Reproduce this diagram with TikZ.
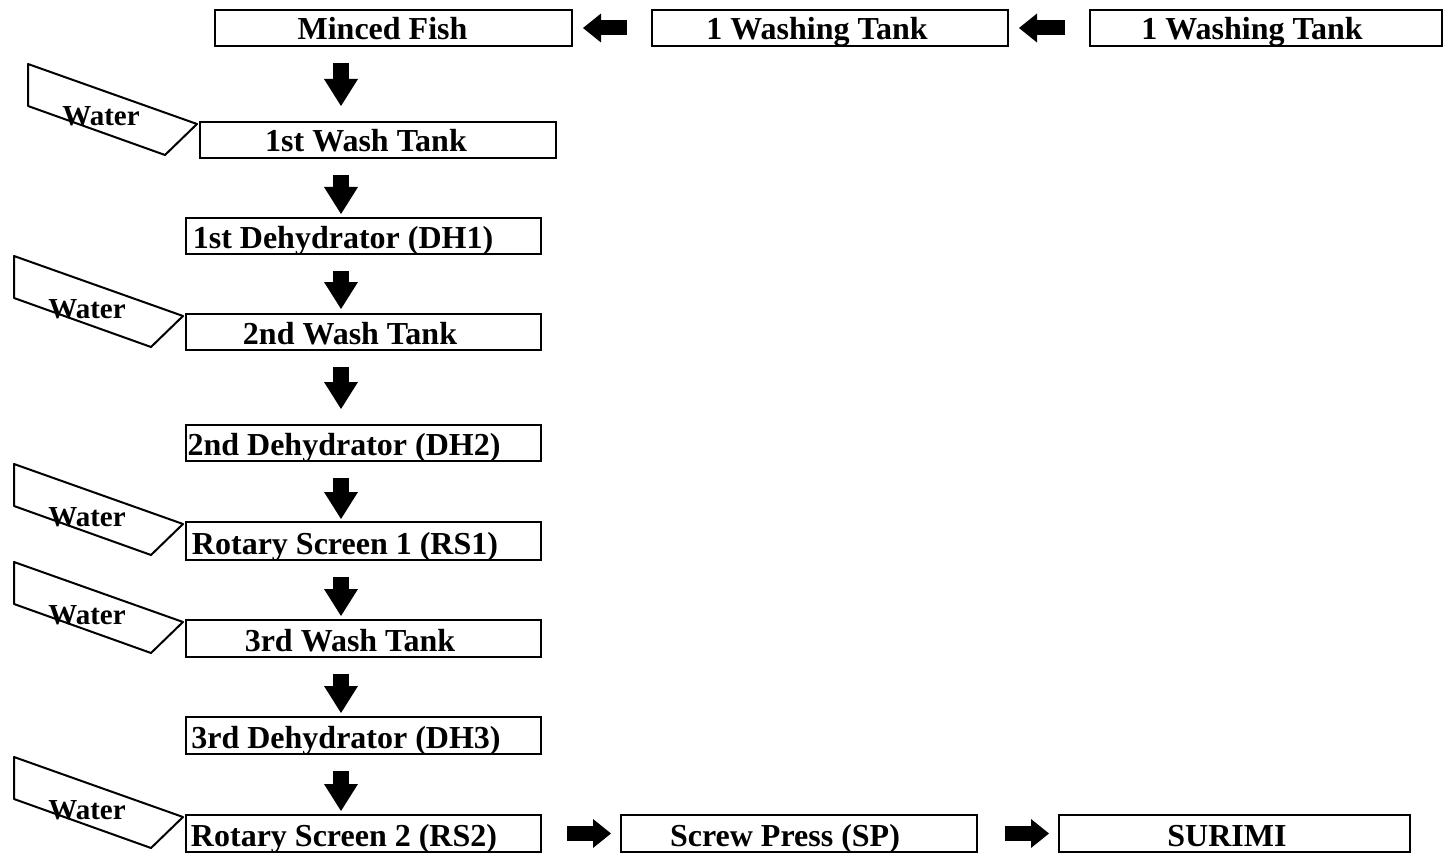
\documentclass[tikz,border=0pt]{standalone}
\usepackage{fontspec}
\setmainfont{Liberation Serif}
\usetikzlibrary{arrows.meta,calc}
\tikzset{
  box/.style={draw, line width=2pt, inner sep=0pt, minimum height=36pt},
  lbl/.style={font=\fontsize{32}{36}\selectfont\bfseries, inner sep=0pt, anchor=base},
  wlbl/.style={font=\fontsize{29}{32}\selectfont\bfseries, inner sep=0pt, anchor=base},
  waterbox/.style={draw, line width=2pt, line join=round},
  dnarr/.style={line width=16pt, -{Triangle[length=27pt,width=34pt,line width=0pt]}, shorten <=16pt},
  hzarr/.style={line width=15pt, -{Triangle[length=18pt,width=29pt,line width=0pt]}},
}
\begin{document}
\begin{tikzpicture}[x=1pt,y=-1pt]
\useasboundingbox (0,0) rectangle (1448,861);
\coordinate (ax) at (341,0);
% top row
\node[box, minimum width=357pt] (mf) at (393.5,28) {};
\node[box, minimum width=356pt] (wt1) at (830,28) {};
\node[box, minimum width=352pt] (wt2) at (1266,28) {};
% column
\node[box, minimum width=356pt] (wash1) at (378,140) {};
\node[box, minimum width=355pt] (dh1) at (363.5,236) {};
\node[box, minimum width=355pt] (wash2) at (363.5,332) {};
\node[box, minimum width=355pt] (dh2) at (363.5,443) {};
\node[box, minimum width=355pt, minimum height=38pt] (rs1) at (363.5,541) {};
\node[box, minimum width=355pt, minimum height=37pt] (wash3) at (363.5,638.5) {};
\node[box, minimum width=355pt, minimum height=37pt] (dh3) at (363.5,735.5) {};
\node[box, minimum width=355pt, minimum height=37pt] (rs2) at (363.5,833.5) {};
% bottom row
\node[box, minimum width=356pt, minimum height=37pt] (sp) at (799,833.5) {};
\node[box, minimum width=351pt, minimum height=37pt] (surimi) at (1234.5,833.5) {};
% labels
\node[lbl] (mft) at ([xshift=-11pt,yshift=7pt]mf.south) {Minced Fish};
\node[lbl] (wt1t) at ([xshift=-13pt,yshift=7pt]wt1.south) {1 Washing Tank};
\node[lbl] (wt2t) at ([xshift=-14pt,yshift=7pt]wt2.south) {1 Washing Tank};
\node[lbl] (wash1t) at ([xshift=-12pt,yshift=7pt]wash1.south) {1st Wash Tank};
\node[lbl] (dh1t) at ([xshift=-20.5pt,yshift=7pt]dh1.south) {1st Dehydrator (DH1)};
\node[lbl] (wash2t) at ([xshift=-13.5pt,yshift=7pt]wash2.south) {2nd Wash Tank};
\node[lbl] (dh2t) at ([xshift=-19.5pt,yshift=7pt]dh2.south) {2nd Dehydrator (DH2)};
\node[lbl] (rs1t) at ([xshift=-18.5pt,yshift=7pt]rs1.south) {Rotary Screen 1 (RS1)};
\node[lbl] (wash3t) at ([xshift=-13.5pt,yshift=7pt]wash3.south) {3rd Wash Tank};
\node[lbl] (dh3t) at ([xshift=-17.5pt,yshift=7pt]dh3.south) {3rd Dehydrator (DH3)};
\node[lbl] (rs2t) at ([xshift=-19.5pt,yshift=7pt]rs2.south) {Rotary Screen 2 (RS2)};
\node[lbl] (spt) at ([xshift=-14pt,yshift=7pt]sp.south) {Screw Press (SP)};
\node[lbl] (surimit) at ([xshift=-7.5pt,yshift=7pt]surimi.south) {SURIMI};
% water inlets
\foreach \b/\n in {wash1/w1, wash2/w2, rs1/w3, wash3/w4, rs2/w5}{
  \coordinate (\n) at ([xshift=-2pt,yshift=-3pt]\b.north west);
  \draw[waterbox] (\n) -- ++(-169,-60) -- ++(0,42) -- ++(137,49) -- cycle;
  \node[wlbl] (\n t) at ($(\n)+(-96,2)$) {Water};
}
% horizontal arrows
\draw[hzarr, shorten <=24pt, shorten >=10pt] (wt1.west) -- (mf.east);
\draw[hzarr, shorten <=24pt, shorten >=10pt] (wt2.west) -- (wt1.east);
\draw[hzarr, shorten <=25pt, shorten >=9pt] (rs2.east) -- (sp.west);
\draw[hzarr, shorten <=27pt, shorten >=9pt] (sp.east) -- (surimi.west);
% vertical arrows
\draw[dnarr, shorten >=15pt] (mf.south -| ax) -- (wash1.north -| ax);
\draw[dnarr, shorten >=3pt] (wash1.south -| ax) -- (dh1.north -| ax);
\draw[dnarr, shorten >=4pt] (dh1.south -| ax) -- (wash2.north -| ax);
\draw[dnarr, shorten >=15pt] (wash2.south -| ax) -- (dh2.north -| ax);
\draw[dnarr, shorten >=2pt] (dh2.south -| ax) -- (rs1.north -| ax);
\draw[dnarr, shorten >=3pt] (rs1.south -| ax) -- (wash3.north -| ax);
\draw[dnarr, shorten >=3pt] (wash3.south -| ax) -- (dh3.north -| ax);
\draw[dnarr, shorten >=3pt] (dh3.south -| ax) -- (rs2.north -| ax);
\end{tikzpicture}
\end{document}
